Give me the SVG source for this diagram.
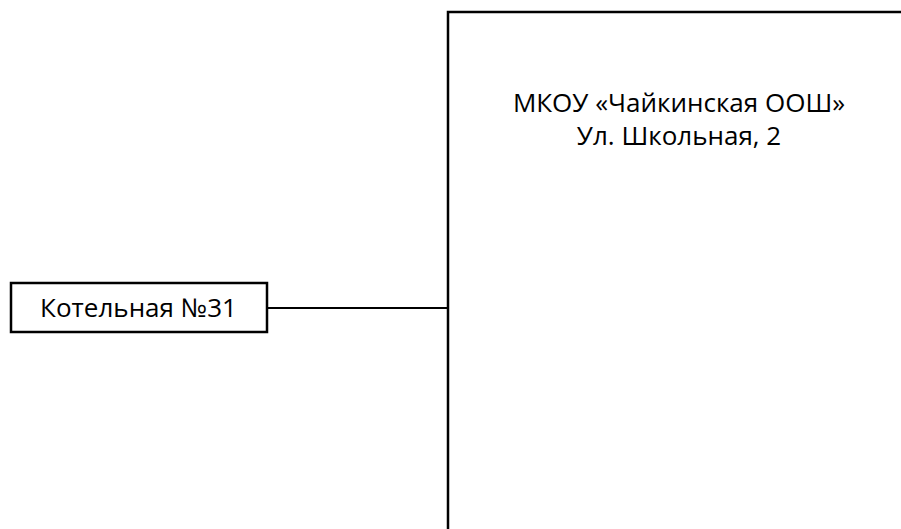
<svg xmlns="http://www.w3.org/2000/svg" width="901" height="529" viewBox="0 0 901 529">
<style>
.box{fill:#fff;stroke:#000;stroke-width:2.5}
.lbl{font-family:"Open Sans","Noto Sans",sans-serif;font-size:26px;fill:#000;text-anchor:middle}
.con{stroke:#000;stroke-width:2;fill:none}
</style>
<rect x="0" y="0" width="901" height="529" fill="#fff"/>
<g id="connectors">
<line class="con" x1="267" y1="308" x2="448" y2="308"/>
</g>
<g id="school">
<rect class="box" x="448" y="12" width="470" height="530"/>
<text class="lbl" x="679" y="112">МКОУ «Чайкинская ООШ»</text>
<text class="lbl" x="679" y="145">Ул. Школьная, 2</text>
</g>
<g id="boiler">
<rect class="box" x="11" y="283" width="256" height="49"/>
<text class="lbl" x="138.5" y="317">Котельная №31</text>
</g>
</svg>
